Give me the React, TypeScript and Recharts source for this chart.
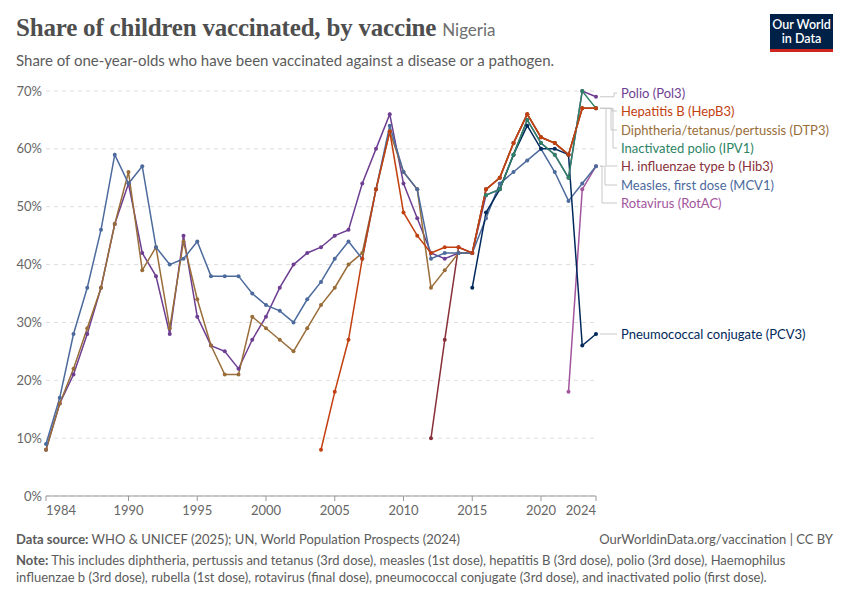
import React from 'react'
import { LineChart, Line, XAxis, YAxis, CartesianGrid } from 'recharts'

const years = [
  1984, 1985, 1986, 1987, 1988, 1989, 1990, 1991, 1992, 1993, 1994, 1995, 1996, 1997,
  1998, 1999, 2000, 2001, 2002, 2003, 2004, 2005, 2006, 2007, 2008, 2009, 2010, 2011,
  2012, 2013, 2014, 2015, 2016, 2017, 2018, 2019, 2020, 2021, 2022, 2023, 2024,
]

const polio = [
  8, 16, 21, 28, 36, 47, 54, 42, 38, 28, 45, 31, 26, 25,
  22, 27, 31, 36, 40, 42, 43, 45, 46, 54, 60, 66, 54, 48,
  42, 41, 42, 42, 52, 53, 59, 65, 61, 59, 55, 70, 69,
]
const hepB = [
  null, null, null, null, null, null, null, null, null, null, null, null, null, null,
  null, null, null, null, null, null, 8, 18, 27, 41, 53, 63, 49, 45,
  42, 43, 43, 42, 53, 55, 61, 66, 62, 61, 59, 67, 67,
]
const dtp3 = [
  8, 16, 22, 29, 36, 47, 56, 39, 43, 29, 44, 34, 26, 21,
  21, 31, 29, 27, 25, 29, 33, 36, 40, 42, 53, 63, 56, 53,
  36, 39, 42, 42, 53, 55, 61, 66, 62, 61, 59, 67, 67,
]
const ipv1 = [
  null, null, null, null, null, null, null, null, null, null, null, null, null, null,
  null, null, null, null, null, null, null, null, null, null, null, null, null, null,
  null, null, null, null, 52, 53, 59, 65, 61, 59, 55, 70, 67,
]
const hib3 = [
  null, null, null, null, null, null, null, null, null, null, null, null, null, null,
  null, null, null, null, null, null, null, null, null, null, null, null, null, null,
  10, 27, 43, 42, 53, 55, 61, 66, 62, 61, 59, 67, 67,
]
const mcv1 = [
  9, 17, 28, 36, 46, 59, 54, 57, 43, 40, 41, 44, 38, 38,
  38, 35, 33, 32, 30, 34, 37, 41, 44, 41, 53, 64, 56, 53,
  41, 42, 42, 42, 48, 54, 56, 58, 60, 56, 51, 54, 57,
]
const rotac = [
  null, null, null, null, null, null, null, null, null, null, null, null, null, null,
  null, null, null, null, null, null, null, null, null, null, null, null, null, null,
  null, null, null, null, null, null, null, null, null, null, 18, 53, 57,
]
const pcv3 = [
  null, null, null, null, null, null, null, null, null, null, null, null, null, null,
  null, null, null, null, null, null, null, null, null, null, null, null, null, null,
  null, null, null, 36, 49, 53, 59, 64, 60, 60, 59, 26, 28,
]

const xTicks = [1984, 1990, 1995, 2000, 2005, 2010, 2015, 2020, 2024]
const yTicks = [0, 10, 20, 30, 40, 50, 60, 70]

// draw order: first is at the bottom
const series = [
  { key: 'polio', name: 'Polio (Pol3)', color: '#6d3e91', values: polio },
  { key: 'hib3', name: 'H. influenzae type b (Hib3)', color: '#883039', values: hib3 },
  { key: 'dtp3', name: 'Diphtheria/tetanus/pertussis (DTP3)', color: '#996d39', values: dtp3 },
  { key: 'rotac', name: 'Rotavirus (RotAC)', color: '#a2559c', values: rotac },
  { key: 'mcv1', name: 'Measles, first dose (MCV1)', color: '#4c6a9c', values: mcv1 },
  { key: 'pcv3', name: 'Pneumococcal conjugate (PCV3)', color: '#00295b', values: pcv3 },
  { key: 'ipv1', name: 'Inactivated polio (IPV1)', color: '#2c8465', values: ipv1 },
  { key: 'hepB', name: 'Hepatitis B (HepB3)', color: '#c23f10', values: hepB },
]

const data = years.map((year, i) => {
  const row: any = { year }
  series.forEach((s) => {
    row[s.key] = s.values[i]
  })
  return row
})

// end labels, top to bottom
const labels = [
  { key: 'polio', labelY: 93, bend: 614 },
  { key: 'hepB', labelY: 111, bend: 612 },
  { key: 'dtp3', labelY: 130, bend: 611 },
  { key: 'ipv1', labelY: 148, bend: 613 },
  { key: 'hib3', labelY: 166, bend: 606 },
  { key: 'mcv1', labelY: 185, bend: 605 },
  { key: 'rotac', labelY: 203, bend: 602 },
  { key: 'pcv3', labelY: 334, bend: 612 },
]

const PLOT_TOP = 91
const PLOT_BOTTOM = 496
const yOf = (v: number) => PLOT_TOP + ((70 - v) / 70) * (PLOT_BOTTOM - PLOT_TOP)

const font = 'Lato, "Noto Sans", sans-serif'

const YearTick = (props: any) => {
  const { x, y, payload } = props
  const v = payload.value
  const anchor = v === xTicks[0] ? 'start' : v === xTicks[xTicks.length - 1] ? 'end' : 'middle'
  return (
    <text x={x} y={y} dy={11} textAnchor={anchor} fill="#666" fontSize={13} fontFamily={font}>
      {v}
    </text>
  )
}

export default function App() {
  return (
    <div style={{ position: 'absolute', top: 0, left: 0, width: 850, height: 600, background: '#fff', fontFamily: font }}>
      <div style={{ position: 'absolute', left: 16, top: 14, whiteSpace: 'nowrap' }}>
        <span style={{ fontFamily: '"Liberation Serif", serif', fontWeight: 700, fontSize: 25, color: '#4e4e4e', letterSpacing: -0.2 }}>
          Share of children vaccinated, by vaccine
        </span>
        <span style={{ fontSize: 17, color: '#6e6e6e', marginLeft: 6 }}>Nigeria</span>
      </div>
      <div style={{ position: 'absolute', left: 16, top: 51, fontSize: 15, color: '#5b5b5b', whiteSpace: 'nowrap' }}>
        Share of one-year-olds who have been vaccinated against a disease or a pathogen.
      </div>
      <div
        style={{
          position: 'absolute', left: 770, top: 14, width: 63, height: 35, background: '#002147',
          borderBottom: '3px solid #ce261e', color: '#fff', fontSize: 12.5, lineHeight: '14px',
          textAlign: 'center', display: 'flex', flexDirection: 'column', justifyContent: 'center', fontWeight: 600,
        }}
      >
        <div>Our World</div>
        <div>in Data</div>
      </div>

      <div style={{ position: 'absolute', left: 0, top: 0 }}>
        <LineChart width={850} height={600} data={data} margin={{ top: PLOT_TOP, right: 254, bottom: 74, left: 0 }}>
          <CartesianGrid vertical={false} stroke="#dddddd" strokeDasharray="4 4" />
          <XAxis
            dataKey="year"
            type="number"
            domain={[1984, 2024]}
            ticks={xTicks}
            height={30}
            tickSize={5}
            tickMargin={3}
            stroke="#999"
            tick={<YearTick />}
          />
          <YAxis
            type="number"
            domain={[0, 70]}
            ticks={yTicks}
            width={46}
            tickSize={0}
            tickMargin={4}
            axisLine={false}
            tickLine={false}
            tickFormatter={(v) => `${v}%`}
            tick={{ fill: '#666', fontSize: 13, fontFamily: font }}
          />
          {series.map((s) => (
            <Line
              key={s.key}
              dataKey={s.key}
              name={s.name}
              stroke={s.color}
              strokeWidth={1.5}
              dot={{ r: 2, fill: s.color, stroke: s.color, strokeWidth: 0 }}
              isAnimationActive={false}
              connectNulls={false}
            />
          ))}
        </LineChart>
      </div>

      <svg width={850} height={600} style={{ position: 'absolute', left: 0, top: 0, pointerEvents: 'none' }}>
        {labels.map((l) => {
          const s = series.find((x) => x.key === l.key)!
          const last = s.values[s.values.length - 1] as number
          const ay = yOf(last)
          return (
            <g key={l.key}>
              <path d={`M600,${ay} H${l.bend} V${l.labelY} H617`} fill="none" stroke="#c8c8c8" strokeWidth={1} />
              <text x={621} y={l.labelY} dominantBaseline="central" fontSize={13} fill={s.color} fontFamily={font}>
                {s.name}
              </text>
            </g>
          )
        })}
      </svg>

      <div style={{ position: 'absolute', left: 16, top: 531, fontSize: 13, lineHeight: '16px', color: '#5b5b5b', whiteSpace: 'nowrap' }}>
        <b style={{ fontWeight: 700 }}>Data source:</b> WHO &amp; UNICEF (2025); UN, World Population Prospects (2024)
      </div>
      <div style={{ position: 'absolute', right: 17, top: 531, fontSize: 13, lineHeight: '16px', color: '#5b5b5b', whiteSpace: 'nowrap' }}>
        OurWorldinData.org/vaccination | CC BY
      </div>
      <div style={{ position: 'absolute', left: 16, top: 552, width: 820, fontSize: 13, lineHeight: '17px', color: '#5b5b5b' }}>
        <b style={{ fontWeight: 700 }}>Note:</b> This includes diphtheria, pertussis and tetanus (3rd dose), measles (1st dose), hepatitis B (3rd dose), polio (3rd dose), Haemophilus influenzae b (3rd dose), rubella (1st dose), rotavirus (final dose), pneumococcal conjugate (3rd dose), and inactivated polio (first dose).
      </div>
    </div>
  )
}
